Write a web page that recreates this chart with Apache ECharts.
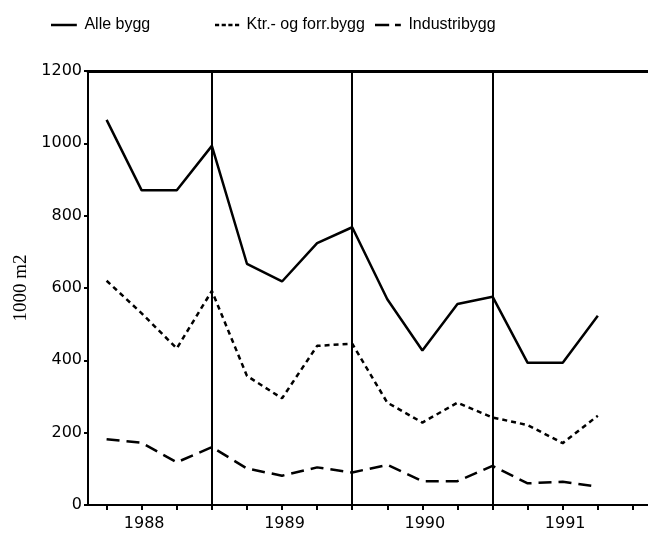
<!DOCTYPE html>
<html>
<head>
    <meta charset="utf-8">
    <title>Byggeareal</title>
    <script src="https://cdn.jsdelivr.net/npm/echarts@6/dist/echarts.min.js"></script>
    <style>
        body { margin: 0; background: #fff; }
        #chart { width: 648px; height: 533px; }
    </style>
</head>
<body>
<div id="chart"></div>
<script type="text/javascript">
    // kvartal 1988 K1 .. 1991 K4 (siste kvartal uten tall)
    var quarters = ['88-1', '88-2', '88-3', '88-4', '89-1', '89-2', '89-3', '89-4',
                    '90-1', '90-2', '90-3', '90-4', '91-1', '91-2', '91-3', '91-4'];
    var yearLabels = ['1988', '1989', '1990', '1991'];
    var alleBygg = [1065, 870, 870, 993, 667, 618, 724, 768, 569, 427, 556, 576, 393, 393, 523];
    var ktrBygg = [620, 530, 433, 592, 357, 295, 440, 446, 283, 228, 283, 242, 221, 171, 247];
    var industriBygg = [182, 172, 118, 160, 101, 81, 104, 90, 111, 66, 66, 108, 60, 64, 51];
    var yearBreaks = [3, 7, 11];

    function toPoints(values) {
        return values.map(function (v, i) { return [i, v]; });
    }

    var font = '"Liberation Sans", Arial, sans-serif';
    var numFont = '"DejaVu Sans", sans-serif';
    var tickIdx = quarters.map(function (q, i) { return i; });
    // årstall står under andre kvartal
    var labelIdx = yearLabels.map(function (y, i) { return 1.07 + i * 4; });
    var legendText = { fontSize: 16, color: '#000', fontFamily: font };

    var chart = echarts.init(document.getElementById('chart'));
    chart.setOption({
        animation: false,
        textStyle: { fontFamily: font, color: '#000' },
        legend: [
            { left: 46, top: 12, itemWidth: 31, itemHeight: 2.5, itemGap: 5, textStyle: legendText,
              data: [{ name: 'Alle bygg', icon: 'path://M0,0H31V3H0Z' }] },
            { left: 210, top: 12, itemWidth: 29, itemHeight: 2.5, itemGap: 5, textStyle: legendText,
              data: [{ name: 'Ktr.- og forr.bygg', icon: 'path://M0,0H5V3H0Z M8,0H13V3H8Z M16,0H21V3H16Z M24,0H29V3H24Z' }] },
            { left: 370, top: 12, itemWidth: 31, itemHeight: 2.5, itemGap: 5, textStyle: legendText,
              data: [{ name: 'Industribygg', icon: 'path://M0,0H17V3H0Z M24,0H31V3H24Z' }] }
        ],
        grid: { left: 88, right: 0, top: 71, bottom: 28 },
        xAxis: [{
            type: 'value',
            min: -0.53,
            max: 15.43,
            axisLine: { onZero: false, lineStyle: { color: '#000', width: 2 } },
            axisTick: { show: true, length: 5, customValues: tickIdx, lineStyle: { color: '#000', width: 2 } },
            axisLabel: {
                customValues: labelIdx,
                margin: 11,
                fontSize: 16,
                color: '#000',
                fontFamily: numFont,
                formatter: function (v) { return yearLabels[Math.round((v - 1.07) / 4)]; }
            },
            splitLine: { show: false }
        }, {
            type: 'value',
            position: 'top',
            min: -0.53,
            max: 15.43,
            axisLine: { show: true, onZero: false, lineStyle: { color: '#000', width: 3 } },
            axisTick: { show: false },
            axisLabel: { show: false },
            splitLine: { show: false }
        }],
        yAxis: {
            type: 'value',
            min: 0,
            max: 1200,
            interval: 200,
            name: '1000 m2',
            nameLocation: 'middle',
            nameGap: 55,
            nameTextStyle: { fontFamily: '"Liberation Serif", "Times New Roman", serif', fontSize: 19, color: '#000' },
            axisLine: { show: true, onZero: false, lineStyle: { color: '#000', width: 2 } },
            axisTick: { show: true, length: 4, lineStyle: { color: '#000', width: 2 } },
            axisLabel: {
                margin: 6, fontSize: 16, color: '#000', fontFamily: numFont,
                formatter: function (v) { return String(v); }
            },
            splitLine: { show: false }
        },
        series: [{
            name: 'Alle bygg',
            type: 'line',
            symbol: 'none',
            data: toPoints(alleBygg),
            itemStyle: { color: '#000' },
            lineStyle: { color: '#000', width: 2.5 },
            markLine: {
                silent: true,
                symbol: 'none',
                label: { show: false },
                lineStyle: { color: '#000', width: 2, type: 'solid' },
                data: yearBreaks.map(function (b) { return { xAxis: b }; })
            }
        }, {
            name: 'Ktr.- og forr.bygg',
            type: 'line',
            symbol: 'none',
            data: toPoints(ktrBygg),
            itemStyle: { color: '#000' },
            lineStyle: { color: '#000', width: 2.5, type: [5, 4] }
        }, {
            name: 'Industribygg',
            type: 'line',
            symbol: 'none',
            data: toPoints(industriBygg),
            itemStyle: { color: '#000' },
            lineStyle: { color: '#000', width: 2.5, type: [13, 7] }
        }]
    });
</script>
</body>
</html>
